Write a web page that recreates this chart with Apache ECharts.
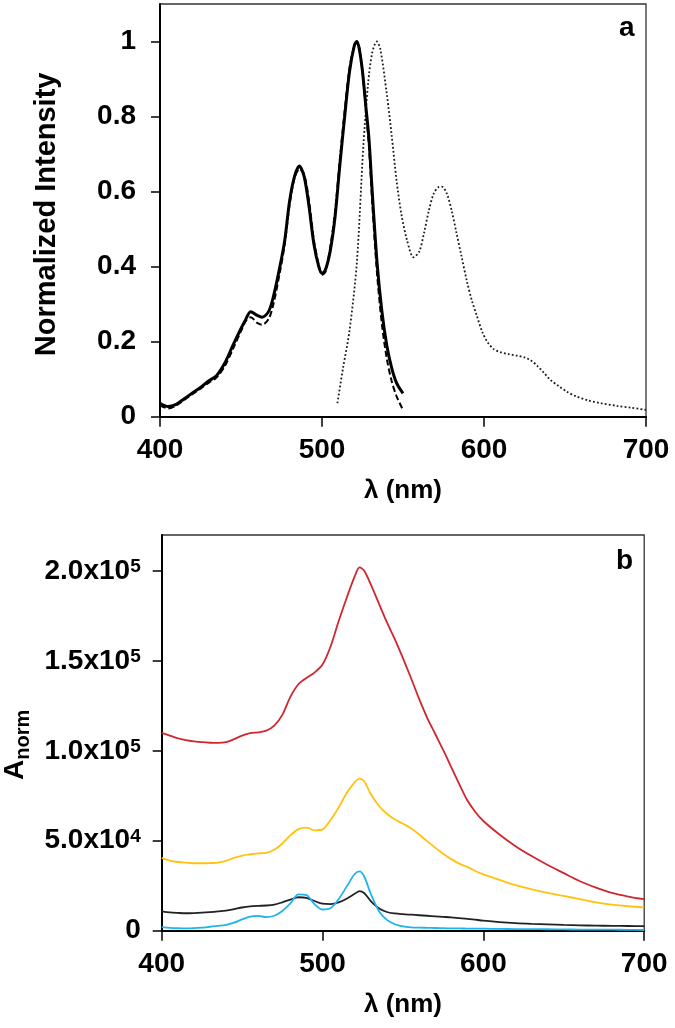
<!DOCTYPE html>
<html>
<head>
<meta charset="utf-8">
<script src="https://cdn.jsdelivr.net/npm/echarts@6/dist/echarts.min.js"></script>
<style>
html,body{margin:0;padding:0;background:#fff;}
#chart{width:675px;height:1028px;}
</style>
</head>
<body>
<div id="chart"></div>
<script>
// ---------- Panel a ----------
var solidX = [400,405,410,415,420,425,430,435,440,445,450,453,456,460,463,467,470,474,477,480,483,486,489,492,495,498,500,502,505,508,511,514,517,520,521.5,523,525,527,529,531,534,537,540,543,546,550];
var solidY = [0.036,0.027,0.033,0.048,0.063,0.078,0.095,0.11,0.143,0.19,0.235,0.26,0.28,0.27,0.265,0.28,0.32,0.40,0.47,0.575,0.64,0.668,0.64,0.56,0.46,0.40,0.382,0.39,0.44,0.53,0.67,0.80,0.92,0.99,1.0,0.98,0.92,0.83,0.74,0.60,0.41,0.28,0.19,0.13,0.09,0.062];
var dashY  = [0.030,0.022,0.030,0.045,0.060,0.075,0.090,0.105,0.135,0.18,0.228,0.255,0.265,0.25,0.245,0.26,0.30,0.385,0.46,0.565,0.635,0.66,0.645,0.575,0.47,0.405,0.378,0.385,0.45,0.545,0.685,0.815,0.93,0.99,1.0,0.985,0.92,0.82,0.72,0.57,0.38,0.245,0.155,0.095,0.055,0.018];
var dotX = [509.5,513,517,521.5,525.5,528.5,531,533.8,536,540,543,546,549,552.5,556.5,560,563,566,569,572,574,577,580,583,586,589.5,592.5,595.5,599,602,606,610,615,620,625,629,633,637,641,646,651,657,664,672,682,691,700];
var dotY = [0.036,0.13,0.23,0.41,0.72,0.89,0.97,1.0,0.98,0.86,0.75,0.63,0.54,0.47,0.425,0.44,0.49,0.55,0.595,0.612,0.613,0.595,0.55,0.49,0.43,0.36,0.31,0.27,0.225,0.20,0.18,0.172,0.167,0.163,0.158,0.15,0.135,0.117,0.098,0.082,0.067,0.054,0.044,0.036,0.029,0.024,0.018];
var aTicks = [0,0.2,0.4,0.6,0.8,1];

// ---------- Panel b ----------
var bX = [400,405,410,415,420,425,430,435,440,445,450,455,460,465,470,475,480,485,490,495,500,505,510,515,520,523,526,530,535,540,545,550,555,560,565,570,575,580,585,590,595,600,610,620,630,640,650,660,670,680,690,700];
var redY = [110000,108500,107000,106000,105300,104800,104500,104400,104800,106500,108500,109800,110300,111200,114000,120000,130000,137000,140500,143500,148000,158000,172000,185000,197000,202000,200000,192500,182000,171500,162000,151500,140500,129000,118500,109500,100500,91000,81500,72500,66000,61000,53500,47000,41500,36500,32000,27500,24000,21000,19000,17500];
var yellowY = [40500,39000,38200,37800,37500,37500,37600,37800,38800,40500,41800,42500,43000,43300,45000,48500,53000,56500,57300,55800,56300,61500,68500,76500,82500,84500,83000,76000,69500,65000,61800,59500,57000,53500,49800,46200,42800,39800,37300,35500,33200,31300,28300,25300,23000,21000,19300,17600,15800,14500,13600,13000];
var blackY = [10800,10200,9900,9700,9800,10000,10300,10700,11200,12000,12900,13500,13800,14000,14500,15800,17300,18600,18300,16500,15000,14800,15700,17800,20500,22000,20800,16500,12500,10400,9600,9200,8900,8600,8300,8000,7700,7400,7000,6600,6100,5600,4800,4200,3800,3500,3200,3000,2800,2700,2600,2500];
var blueY = [2000,1600,1400,1300,1400,1700,2200,2700,3300,4500,6300,7800,8200,7600,8300,11000,15200,20200,19800,14800,11800,12500,17500,24500,31500,33000,30000,20500,11000,6000,3600,2400,1900,1700,1600,1500,1400,1300,1250,1200,1150,1100,1000,900,850,800,700,650,600,550,500,400];
var bTicks = [0,50000,100000,150000,200000];
var bTickLabels = ['0','5.0x10{sup|4}','1.0x10{sup|5}','1.5x10{sup|5}','2.0x10{sup|5}'];
var xTicks = [400,500,600,700];

function pairs(xs, ys){ return xs.map(function(x,i){ return [x, ys[i]]; }); }

var FONT = 'Liberation Sans, Arial, sans-serif';
var chart = echarts.init(document.getElementById('chart'), null, {renderer:'canvas'});

function xAxisCfg(gi){
  return {
    type:'value', gridIndex:gi, min:400, max:700, interval:100,
    name:'λ (nm)', nameLocation:'middle', nameGap:61,
    nameTextStyle:{fontFamily:FONT, fontSize:26, fontWeight:'bold', color:'#000'},
    axisLine:{show:true, onZero:false, lineStyle:{color:'#000', width:2}},
    axisTick:{show:true, inside:false, length:10, lineStyle:{color:'#000', width:1.5}},
    axisLabel:{fontFamily:FONT, fontSize:28, fontWeight:'bold', color:'#000', margin:20, customValues:xTicks},
    splitLine:{show:false}
  };
}

var option = {
  animation:false,
  backgroundColor:'#fff',
  grid:[
    {left:160, top:4, width:486, height:412.7, containLabel:false, outerBoundsMode:'none', show:true, borderColor:'#333', borderWidth:1.3, backgroundColor:'transparent'},
    {left:161.7, top:535, width:482.5, height:395.7, containLabel:false, outerBoundsMode:'none', show:true, borderColor:'#333', borderWidth:1.3, backgroundColor:'transparent'}
  ],
  xAxis:[xAxisCfg(0), xAxisCfg(1)],
  yAxis:[
    {
      type:'value', gridIndex:0, min:0, max:1.1,
      name:'Normalized Intensity', nameLocation:'middle', nameGap:99, nameRotate:90,
      nameTextStyle:{fontFamily:FONT, fontSize:29, fontWeight:'bold', color:'#000', padding:[0,8,0,0]},
      axisLine:{show:true, onZero:false, lineStyle:{color:'#000', width:2}},
      axisTick:{show:true, inside:false, length:9, lineStyle:{color:'#000', width:1.5}, customValues:aTicks},
      axisLabel:{fontFamily:FONT, fontSize:28, fontWeight:'bold', color:'#000', margin:24, customValues:aTicks},
      splitLine:{show:false}
    },
    {
      type:'value', gridIndex:1, min:0, max:220000,
      name:'{a|A}{n|norm}', nameLocation:'middle', nameGap:125, nameRotate:90,
      nameTextStyle:{
        fontFamily:FONT, fontSize:28, fontWeight:'bold', color:'#000', padding:[0,24,0,0],
        rich:{
          a:{fontFamily:FONT, fontSize:28, fontWeight:'bold', color:'#000', lineHeight:28},
          n:{fontFamily:FONT, fontSize:20, fontWeight:'bold', color:'#000', lineHeight:20, padding:[16,0,0,0]}
        }
      },
      axisLine:{show:true, onZero:false, lineStyle:{color:'#000', width:2}},
      axisTick:{show:true, inside:false, length:9, lineStyle:{color:'#000', width:1.5}, customValues:bTicks},
      axisLabel:{
        fontFamily:FONT, fontSize:28, fontWeight:'bold', color:'#000', margin:21, customValues:bTicks,
        formatter:function(v){ var i = bTicks.indexOf(v); return i >= 0 ? bTickLabels[i] : ''; },
        rich:{
          sup:{fontFamily:FONT, fontSize:19, fontWeight:'bold', color:'#000', lineHeight:19, padding:[0,0,8,0]}
        }
      },
      splitLine:{show:false}
    }
  ],
  graphic:[
    {type:'text', left:619, top:14, style:{text:'a', fontFamily:FONT, fontSize:28, fontWeight:'bold', fill:'#000'}},
    {type:'text', left:616, top:547, style:{text:'b', fontFamily:FONT, fontSize:28, fontWeight:'bold', fill:'#000'}}
  ],
  series:[
    {type:'line', xAxisIndex:0, yAxisIndex:0, data:pairs(dotX, dotY), showSymbol:false, smooth:0.3, z:1,
      lineStyle:{color:'#1a1a1a', width:1.8, type:[1.8,2.2]}},
    {type:'line', xAxisIndex:0, yAxisIndex:0, data:pairs(solidX, dashY), showSymbol:false, smooth:0.3, z:2,
      lineStyle:{color:'#000', width:2, type:[6,3]}},
    {type:'line', xAxisIndex:0, yAxisIndex:0, data:pairs(solidX, solidY), showSymbol:false, smooth:0.3, z:3,
      lineStyle:{color:'#000', width:3}},
    {type:'line', xAxisIndex:1, yAxisIndex:1, data:pairs(bX, redY), showSymbol:false, smooth:0.3,
      lineStyle:{color:'#d0262d', width:1.8}},
    {type:'line', xAxisIndex:1, yAxisIndex:1, data:pairs(bX, yellowY), showSymbol:false, smooth:0.3,
      lineStyle:{color:'#ffc20e', width:1.8}},
    {type:'line', xAxisIndex:1, yAxisIndex:1, data:pairs(bX, blackY), showSymbol:false, smooth:0.3,
      lineStyle:{color:'#222', width:1.8}},
    {type:'line', xAxisIndex:1, yAxisIndex:1, data:pairs(bX, blueY), showSymbol:false, smooth:0.3,
      lineStyle:{color:'#1fb4ee', width:1.8}}
  ]
};
chart.setOption(option);
</script>
</body>
</html>
